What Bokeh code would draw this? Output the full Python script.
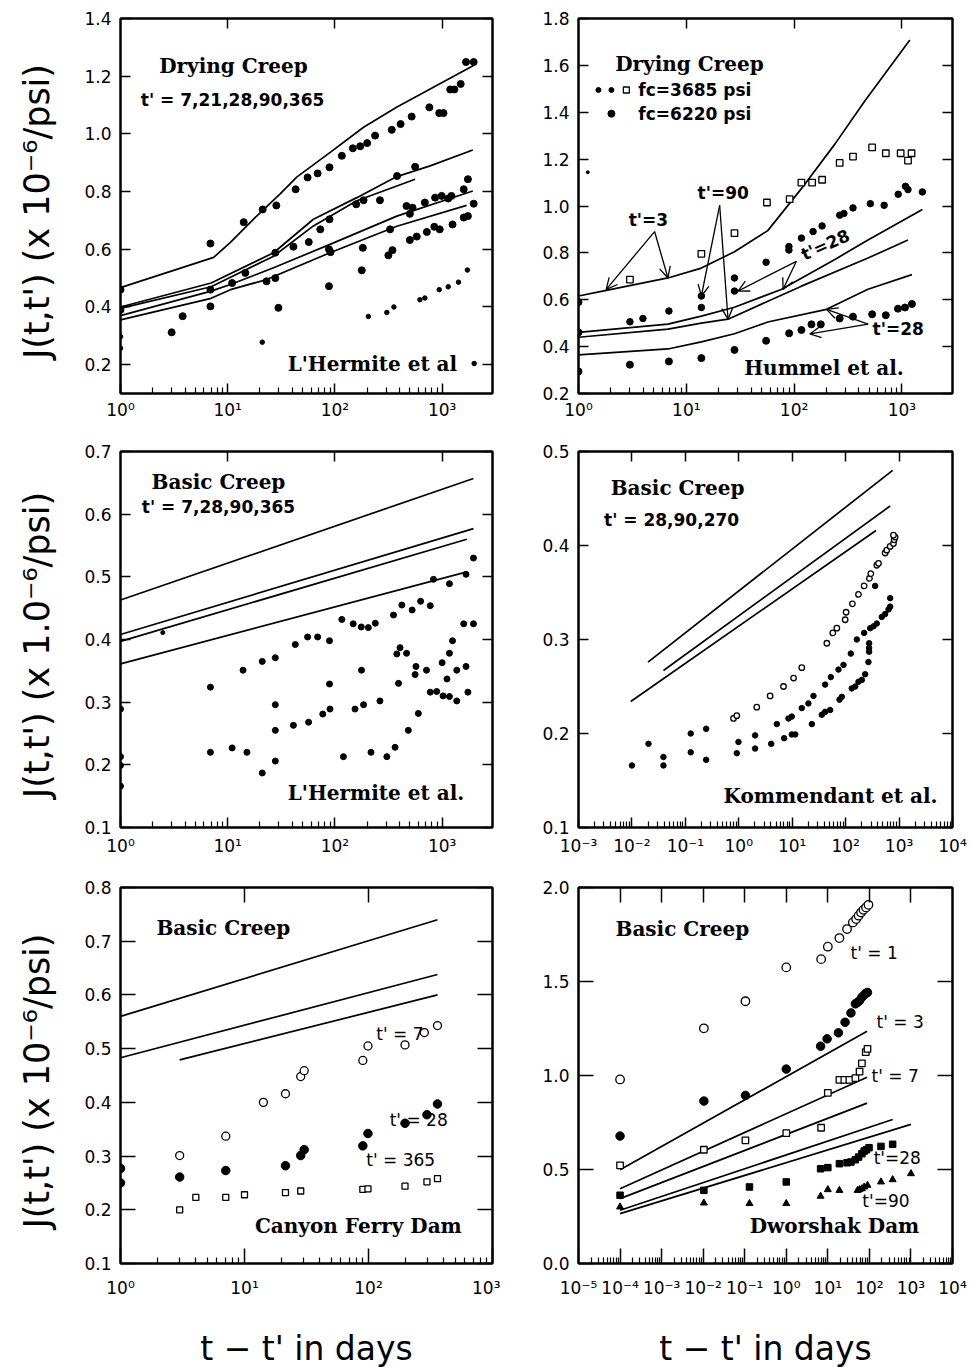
from bokeh.plotting import figure
from bokeh.layouts import column, row
from bokeh.models import (LogAxis, LinearAxis, FixedTicker, CustomJSTickFormatter,
                          NumeralTickFormatter, Label, Arrow, OpenHead)
from bokeh.embed import file_html
from bokeh.resources import INLINE

# ---------------- data: panel 1 (L'Hermite, drying creep) ----------------
tl_A_x = [1, 7.4, 10.6, 18, 31, 44, 91, 185, 379, 774, 1963]
tl_A_y = [0.467, 0.572, 0.624, 0.71, 0.793, 0.85, 0.937, 1.023, 1.093, 1.156, 1.237]
tl_B_x = [1, 7, 26.8, 63, 160, 378, 773, 1932]
tl_B_y = [0.40, 0.483, 0.588, 0.704, 0.779, 0.852, 0.889, 0.944]
tl_C_x = [1, 7, 26.8, 63, 160, 560]
tl_C_y = [0.395, 0.47, 0.576, 0.681, 0.768, 0.843]
tl_D_x = [1, 7, 10.6, 26.8, 90, 378, 1932]
tl_D_y = [0.37, 0.455, 0.478, 0.536, 0.617, 0.715, 0.802]
tl_E_x = [1, 7, 10.6, 23, 90, 378, 1690]
tl_E_y = [0.355, 0.43, 0.46, 0.495, 0.588, 0.68, 0.752]
tl_dot_x = [1, 1, 3.0, 3.8, 6.9, 6.9, 6.9, 11, 14.1, 14.6, 21.2, 23, 27.8, 28.4, 27.8, 29.7,
            41, 43, 55.6, 57, 69, 73, 89, 89, 88, 91, 88, 116, 147, 158, 172, 178, 182, 185,
            200, 237, 263, 315, 327, 339, 344, 380, 410, 465, 500, 500, 520, 530, 560, 580,
            690, 720, 760, 845, 860, 940, 950, 990, 1030, 1140, 1190, 1220, 1250, 1300,
            1490, 1590, 1590, 1670, 1740, 1740, 1970, 1970]
tl_dot_y = [0.46, 0.39, 0.312, 0.368, 0.62, 0.46, 0.402, 0.483, 0.694, 0.518, 0.738, 0.489,
            0.5, 0.752, 0.588, 0.397, 0.609, 0.808, 0.849, 0.625, 0.863, 0.669, 0.884, 0.704,
            0.6, 0.59, 0.472, 0.924, 0.95, 0.756, 0.957, 0.527, 0.605, 0.77, 0.968, 0.994,
            0.77, 0.579, 0.669, 1.014, 0.597, 0.854, 1.034, 0.75, 0.723, 0.632, 1.06, 0.744,
            0.886, 0.644, 0.762, 0.66, 1.092, 0.678, 0.779, 1.072, 0.669, 0.785, 1.072, 0.776,
            1.154, 0.785, 0.686, 1.154, 1.173, 0.808, 0.71, 1.249, 0.843, 0.715, 1.249, 0.758]
tl_small_x = [1, 1, 21, 205, 305, 355, 620, 690, 940, 1140, 1420, 1720, 1990]
tl_small_y = [0.297, 0.257, 0.278, 0.367, 0.381, 0.40, 0.425, 0.431, 0.46, 0.47, 0.486, 0.528, 0.204]

# ---------------- data: panel 2 (Hummel, drying creep) ----------------
tr_1_x = [1, 1.81, 6.76, 13.8, 28, 57, 117, 239, 453, 1186]
tr_1_y = [0.616, 0.64, 0.693, 0.735, 0.805, 0.895, 1.074, 1.264, 1.448, 1.708]
tr_2_x = [1, 6.76, 13.8, 28, 76, 239, 485, 1550]
tr_2_y = [0.461, 0.496, 0.53, 0.568, 0.644, 0.772, 0.855, 0.985]
tr_3_x = [1, 6.76, 13.8, 24.4, 117, 485, 1140]
tr_3_y = [0.44, 0.475, 0.50, 0.517, 0.658, 0.778, 0.855]
tr_4_x = [1, 6.76, 13.8, 28, 57, 200, 485, 1240]
tr_4_y = [0.365, 0.39, 0.42, 0.455, 0.505, 0.559, 0.645, 0.707]
tr_sq_x = [3.0, 13.8, 28, 56, 91, 117, 147, 182, 265, 352, 530, 710, 975, 1230, 1140]
tr_sq_y = [0.686, 0.796, 0.884, 1.015, 1.029, 1.10, 1.10, 1.112, 1.184, 1.211, 1.25, 1.225, 1.225, 1.225, 1.194]
tr_mid_x = [3.0, 3.96, 6.9, 13.8, 13.8, 28, 28, 55, 89.6, 89.6, 117, 150, 182, 265, 290, 352,
            510, 685, 925, 1080, 1140, 1550]
tr_mid_y = [0.506, 0.52, 0.552, 0.567, 0.616, 0.693, 0.637, 0.76, 0.827, 0.812, 0.863, 0.891,
            0.915, 0.961, 0.968, 0.992, 1.01, 1.003, 1.05, 1.084, 1.07, 1.06]
tr_low_x = [1, 1, 1, 3.0, 6.9, 13.8, 28, 55, 90, 117, 145, 177, 265, 352, 530, 710, 920, 1070, 1240]
tr_low_y = [0.59, 0.461, 0.294, 0.323, 0.337, 0.351, 0.386, 0.425, 0.457, 0.471, 0.495, 0.495,
            0.52, 0.528, 0.538, 0.534, 0.562, 0.567, 0.582]

# ---------------- data: panel 3 (L'Hermite, basic creep) ----------------
ml_1_x = [1, 1960]; ml_1_y = [0.463, 0.657]
ml_2_x = [1, 1960]; ml_2_y = [0.408, 0.577]
ml_3_x = [1, 1700]; ml_3_y = [0.397, 0.560]
ml_4_x = [1, 1700]; ml_4_y = [0.361, 0.508]
ml_dot_x = [1, 1, 1, 1, 6.9, 6.9, 11, 13.9, 15.1, 21, 21, 27.8, 27.8, 27.8, 27.8, 41, 42.7,
            55.6, 56.8, 69, 77, 89, 89, 90, 116, 120, 148, 154, 176, 177, 185, 205, 217, 238,
            263, 305, 352, 364, 378, 392, 405, 421, 466, 484, 525, 560, 570, 600, 630, 715,
            775, 775, 830, 890, 1000, 1020, 1110, 1170, 1170, 1170, 1250, 1370, 1370, 1590,
            1670, 1670, 1740, 1960, 1960]
ml_dot_y = [0.289, 0.213, 0.199, 0.166, 0.324, 0.22, 0.227, 0.351, 0.22, 0.365, 0.187, 0.371,
            0.296, 0.255, 0.206, 0.263, 0.392, 0.404, 0.268, 0.404, 0.281, 0.398, 0.329, 0.289,
            0.432, 0.213, 0.425, 0.289, 0.42, 0.351, 0.296, 0.419, 0.22, 0.426, 0.302, 0.213,
            0.439, 0.228, 0.377, 0.33, 0.387, 0.455, 0.378, 0.255, 0.447, 0.344, 0.357, 0.282,
            0.461, 0.351, 0.454, 0.316, 0.496, 0.317, 0.363, 0.31, 0.337, 0.309, 0.378, 0.489,
            0.398, 0.351, 0.302, 0.425, 0.357, 0.504, 0.316, 0.53, 0.425]
ml_small_x = [2.48]; ml_small_y = [0.411]

# ---------------- data: panel 4 (Kommendant, basic creep) ----------------
mr_1_x = [0.02, 760];    mr_1_y = [0.276, 0.48]
mr_2_x = [0.039, 680];   mr_2_y = [0.267, 0.442]
mr_3_x = [0.0095, 370];  mr_3_y = [0.234, 0.416]
mr_open_x = [0.796, 0.918, 2.17, 3.86, 6.87, 10.6, 15.1, 44.5, 57.5, 68.4, 98, 102, 134, 174,
             222, 279, 296, 383, 412, 548, 589, 681, 785, 809, 843, 785]
mr_open_y = [0.216, 0.219, 0.228, 0.24, 0.25, 0.259, 0.27, 0.296, 0.307, 0.312, 0.321, 0.329,
             0.338, 0.348, 0.357, 0.365, 0.37, 0.379, 0.381, 0.392, 0.395, 0.399, 0.402, 0.406,
             0.409, 0.411]
mr_mid_x = [0.0204, 0.126, 0.245, 0.986, 2.02, 5.15, 8.51, 9.82, 15.1, 20.1, 25, 41.3, 52.7,
            73.5, 91.2, 125, 162, 222, 288, 332, 356, 383, 475, 548, 634, 681, 681]
mr_mid_y = [0.189, 0.2, 0.205, 0.191, 0.198, 0.21, 0.216, 0.218, 0.227, 0.232, 0.24, 0.252,
            0.26, 0.268, 0.273, 0.285, 0.3, 0.307, 0.312, 0.314, 0.357, 0.317, 0.324, 0.327,
            0.332, 0.335, 0.344]
mr_low_x = [0.01, 0.0389, 0.0389, 0.126, 0.245, 0.918, 2.02, 4.04, 7.06, 9.82, 11.4, 23.3, 35.8,
            41.3, 51.3, 76.7, 84.7, 130, 151, 174, 201, 232, 267, 275, 275, 275]
mr_low_y = [0.166, 0.175, 0.166, 0.18, 0.172, 0.179, 0.184, 0.189, 0.195, 0.199, 0.199, 0.21,
            0.22, 0.223, 0.225, 0.236, 0.239, 0.248, 0.25, 0.255, 0.257, 0.263, 0.276, 0.287,
            0.291, 0.296]

# ---------------- data: panel 5 (Canyon Ferry Dam) ----------------
bl_1_x = [1, 360]; bl_1_y = [0.56, 0.74]
bl_2_x = [1, 360]; bl_2_y = [0.483, 0.638]
bl_3_x = [3, 360]; bl_3_y = [0.479, 0.60]
bl_t7_x = [3, 7.06, 14.2, 21.4, 28.4, 30.3, 90, 99, 197, 282, 360]
bl_t7_y = [0.301, 0.337, 0.40, 0.416, 0.448, 0.459, 0.478, 0.505, 0.507, 0.53, 0.543]
bl_t28_x = [1, 1, 3, 7.06, 21.4, 28.4, 30.3, 90, 99, 197, 296, 360]
bl_t28_y = [0.277, 0.25, 0.261, 0.273, 0.282, 0.301, 0.312, 0.319, 0.342, 0.361, 0.377, 0.397]
bl_t365_x = [3, 4.05, 7.06, 10, 21.4, 28.4, 90, 99, 197, 296, 360]
bl_t365_y = [0.20, 0.223, 0.223, 0.228, 0.232, 0.235, 0.238, 0.239, 0.244, 0.252, 0.258]

# ---------------- data: panel 6 (Dworshak Dam) ----------------
br_1_x = [1e-4, 88];   br_1_y = [0.499, 1.235]
br_2_x = [1e-4, 88];   br_2_y = [0.398, 0.991]
br_3_x = [1e-4, 88];   br_3_y = [0.345, 0.853]
br_4_x = [1e-4, 363];  br_4_y = [0.283, 0.766]
br_5_x = [1e-4, 1000]; br_5_y = [0.265, 0.74]
br_t1_x = [1e-4, 0.0104, 0.104, 1.0, 6.9, 10, 19, 29, 40, 48, 55, 63, 72, 83, 95]
br_t1_y = [0.979, 1.251, 1.395, 1.575, 1.619, 1.685, 1.731, 1.779, 1.814, 1.832, 1.85, 1.867,
           1.881, 1.894, 1.908]
br_t3_x = [1e-4, 0.0104, 0.104, 1.0, 6.7, 9.6, 18, 26, 36, 46, 52, 58, 66, 75, 82, 90]
br_t3_y = [0.678, 0.864, 0.894, 1.034, 1.156, 1.195, 1.227, 1.283, 1.333, 1.381, 1.389, 1.398,
           1.416, 1.428, 1.437, 1.442]
br_t7_x = [1e-4, 0.0104, 0.104, 1.0, 6.9, 10, 19, 25, 33, 46, 58, 66, 82, 90]
br_t7_y = [0.522, 0.605, 0.655, 0.694, 0.722, 0.908, 0.977, 0.977, 0.977, 0.986, 1.021, 1.065,
           1.124, 1.142]
br_t28_x = [1e-4, 0.0104, 0.13, 1.0, 6.7, 10, 19, 29, 36, 46, 55, 66, 75, 85, 98, 190, 363]
br_t28_y = [0.363, 0.389, 0.407, 0.434, 0.504, 0.51, 0.531, 0.536, 0.54, 0.552, 0.566, 0.584,
            0.598, 0.605, 0.616, 0.623, 0.634]
br_t90_x = [1e-4, 0.0104, 0.13, 1.0, 6.7, 10, 19, 52, 58, 66, 75, 90, 190, 363, 1000]
br_t90_y = [0.301, 0.322, 0.319, 0.319, 0.358, 0.393, 0.389, 0.389, 0.393, 0.398, 0.407, 0.416,
            0.434, 0.446, 0.478]

Y_LABEL = "J(t,t')  (x 10\u207b\u2076/psi)"
Y_LABEL_MID = "J(t,t')  (x 1.0\u207b\u2076/psi)"
X_LABEL = "t \u2212 t' in days"

SUP = """
const m = {'-':'\u207b','0':'\u2070','1':'\u00b9','2':'\u00b2','3':'\u00b3','4':'\u2074',
           '5':'\u2075','6':'\u2076','7':'\u2077','8':'\u2078','9':'\u2079'};
const e = Math.round(Math.log10(tick));
return '10' + String(e).split('').map(c => m[c]).join('');
"""
BLANK = "return '';"

COL = {"L": dict(bl=120, fw=372, br=8), "R": dict(bl=78, fw=374, br=19)}
ROW = {1: dict(bt=18, fh=375, bb=42, tick=10, std=6),
       2: dict(bt=16, fh=376, bb=43, tick=10, std=8),
       3: dict(bt=17, fh=376, bb=100, tick=15, std=14)}
TICK_FONT = "DejaVu Sans"


def minors(lo, hi):
    return [d * 10.0 ** k for k in range(lo, hi) for d in range(2, 10)]


def style_axis(a, tick):
    a.axis_line_width = 2
    a.axis_line_color = "black"
    a.major_tick_line_width = 1.5
    a.major_tick_line_color = "black"
    a.minor_tick_line_color = "black"
    a.major_tick_in = tick
    a.major_tick_out = 0
    a.minor_tick_in = 0
    a.minor_tick_out = 0
    a.major_label_text_font = TICK_FONT
    a.major_label_text_font_size = "17px"
    a.major_label_text_color = "black"


def panel(side, r, xr, yr, xdec, ymaj, yfmt, top_ticks, ylabel=None, xlabel=None):
    c = COL[side]; g = ROW[r]
    p = figure(x_axis_type="log", x_range=xr, y_range=yr,
               frame_width=c["fw"], frame_height=g["fh"],
               min_border_left=c["bl"], min_border_right=c["br"],
               min_border_top=g["bt"], min_border_bottom=g["bb"],
               toolbar_location=None, output_backend="svg")
    p.grid.visible = False
    p.outline_line_color = "black"
    p.outline_line_width = 2
    xa = p.xaxis[0]
    style_axis(xa, g["tick"])
    xa.ticker = FixedTicker(ticks=[10.0 ** k for k in range(xdec[0], xdec[1] + 1)],
                            minor_ticks=minors(xdec[0], xdec[1]))
    xa.formatter = CustomJSTickFormatter(code=SUP)
    xa.minor_tick_in = 6
    xa.minor_tick_line_width = 1.2
    xa.major_label_standoff = g["std"]
    ya = p.yaxis[0]
    style_axis(ya, g["tick"])
    ya.ticker = FixedTicker(ticks=ymaj, minor_ticks=[])
    ya.formatter = NumeralTickFormatter(format=yfmt)
    ya.major_label_standoff = 9
    if ylabel:
        ya.axis_label = ylabel
        ya.axis_label_text_font = "DejaVu Sans"
        ya.axis_label_text_font_size = "35px"
        ya.axis_label_text_font_style = "normal"
        ya.axis_label_text_color = "black"
        ya.axis_label_standoff = 24
    if xlabel:
        xa.axis_label = xlabel
        xa.axis_label_text_font = "DejaVu Sans"
        xa.axis_label_text_font_size = "33px"
        xa.axis_label_text_font_style = "normal"
        xa.axis_label_text_color = "black"
        xa.axis_label_standoff = 28
    top = LogAxis(ticker=FixedTicker(ticks=top_ticks, minor_ticks=[]),
                  formatter=CustomJSTickFormatter(code=BLANK))
    style_axis(top, g["tick"])
    top.major_label_text_font_size = "1px"
    top.major_label_standoff = 0
    p.add_layout(top, "above")
    right = LinearAxis(ticker=FixedTicker(ticks=ymaj, minor_ticks=[]),
                       formatter=CustomJSTickFormatter(code=BLANK))
    style_axis(right, g["tick"])
    right.major_label_text_font_size = "1px"
    right.major_label_standoff = 0
    p.add_layout(right, "right")
    return p


def lines(p, pairs):
    for xs, ys in pairs:
        p.line(xs, ys, line_color="black", line_width=1.7)


def txt(p, x, y, s, font="DejaVu Serif", size="20px", style="bold", align="center", angle=0.0):
    p.add_layout(Label(x=x, y=y, text=s, text_font=font, text_font_size=size,
                       text_font_style=style, text_align=align, text_baseline="middle",
                       angle=angle, text_color="black"))


def arrow(p, x0, y0, x1, y1):
    p.add_layout(Arrow(end=OpenHead(size=11, line_width=1.3, line_color="black"),
                       x_start=x0, y_start=y0, x_end=x1, y_end=y1,
                       line_width=1.3, line_color="black"))


def filled(p, xs, ys, size, marker="circle"):
    p.scatter(xs, ys, marker=marker, size=size, fill_color="black", line_color="black")


def hollow(p, xs, ys, size, marker="circle"):
    p.scatter(xs, ys, marker=marker, size=size, fill_color="white", line_color="black",
              line_width=1.3)


# ---- panel 1
p1 = panel("L", 1, (1, 2950), (0.1, 1.4), (0, 3), [0.2, 0.4, 0.6, 0.8, 1.0, 1.2, 1.4], "0.0",
           [10, 100, 1000], ylabel=Y_LABEL)
lines(p1, [(tl_A_x, tl_A_y), (tl_B_x, tl_B_y), (tl_C_x, tl_C_y), (tl_D_x, tl_D_y), (tl_E_x, tl_E_y)])
filled(p1, tl_dot_x, tl_dot_y, 7)
filled(p1, tl_small_x, tl_small_y, 4.5)
txt(p1, 11.3, 1.237, "Drying Creep")
txt(p1, 11.1, 1.116, "t' = 7,21,28,90,365", font="DejaVu Sans", size="17px")
txt(p1, 1381, 0.204, "L'Hermite et al", align="right")

# ---- panel 2
p2 = panel("R", 1, (1, 2950), (0.2, 1.8), (0, 3), [0.2, 0.4, 0.6, 0.8, 1.0, 1.2, 1.4, 1.6, 1.8],
           "0.0", [10, 100, 1000])
lines(p2, [(tr_1_x, tr_1_y), (tr_2_x, tr_2_y), (tr_3_x, tr_3_y), (tr_4_x, tr_4_y)])
hollow(p2, tr_sq_x, tr_sq_y, 6.5, marker="square")
filled(p2, tr_mid_x, tr_mid_y, 6.5)
filled(p2, tr_low_x, tr_low_y, 7)
filled(p2, [1.22], [1.144], 3)
txt(p2, 10.7, 1.605, "Drying Creep")
filled(p2, [1.53, 2.02], [1.495, 1.495], 5)
hollow(p2, [2.78], [1.495], 6, marker="square")
txt(p2, 3.59, 1.495, "fc=3685 psi", font="DejaVu Sans", size="17px", align="left")
filled(p2, [2.02], [1.394], 7)
txt(p2, 3.59, 1.394, "fc=6220 psi", font="DejaVu Sans", size="17px", align="left")
txt(p2, 4.45, 0.941, "t'=3", font="DejaVu Sans", size="17px")
txt(p2, 22, 1.055, "t'=90", font="DejaVu Sans", size="17px")
txt(p2, 195, 0.834, "t'=28", font="DejaVu Sans", size="17px", angle=0.42)
txt(p2, 925, 0.475, "t'=28", font="DejaVu Sans", size="17px")
txt(p2, 1040, 0.31, "Hummel et al.", align="right")
arrow(p2, 5.08, 0.891, 1.81, 0.644)
arrow(p2, 5.08, 0.891, 6.76, 0.693)
arrow(p2, 20.4, 1.003, 13.8, 0.616)
arrow(p2, 20.4, 1.003, 24.4, 0.517)
arrow(p2, 105, 0.764, 30.2, 0.637)
arrow(p2, 105, 0.764, 79, 0.644)
arrow(p2, 487, 0.496, 200, 0.559)
arrow(p2, 487, 0.496, 140, 0.454)

# ---- panel 3
p3 = panel("L", 2, (1, 2950), (0.1, 0.7), (0, 3), [0.1, 0.2, 0.3, 0.4, 0.5, 0.6, 0.7], "0.0",
           [10, 100, 1000], ylabel=Y_LABEL_MID)
lines(p3, [(ml_1_x, ml_1_y), (ml_2_x, ml_2_y), (ml_3_x, ml_3_y), (ml_4_x, ml_4_y)])
filled(p3, ml_dot_x, ml_dot_y, 6)
filled(p3, ml_small_x, ml_small_y, 4)
txt(p3, 8.2, 0.651, "Basic Creep")
txt(p3, 8.2, 0.612, "t' = 7,28,90,365", font="DejaVu Sans", size="17px")
txt(p3, 1607, 0.155, "L'Hermite et al.", align="right")

# ---- panel 4
p4 = panel("R", 2, (1e-3, 1e4), (0.1, 0.5), (-3, 4), [0.1, 0.2, 0.3, 0.4, 0.5], "0.0",
           [1e-2, 1e-1, 1, 10, 100, 1000])
lines(p4, [(mr_1_x, mr_1_y), (mr_2_x, mr_2_y), (mr_3_x, mr_3_y)])
hollow(p4, mr_open_x, mr_open_y, 5.5)
filled(p4, mr_mid_x, mr_mid_y, 5.5)
filled(p4, mr_low_x, mr_low_y, 5.5)
txt(p4, 0.0715, 0.4616, "Basic Creep")
txt(p4, 0.0552, 0.4275, "t' = 28,90,270", font="DejaVu Sans", size="17px")
txt(p4, 5250, 0.134, "Kommendant et al.", align="right")

# ---- panel 5
p5 = panel("L", 3, (1, 1000), (0.1, 0.8), (0, 3), [0.1, 0.2, 0.3, 0.4, 0.5, 0.6, 0.7, 0.8], "0.0",
           [10, 100], ylabel=Y_LABEL, xlabel=X_LABEL)
lines(p5, [(bl_1_x, bl_1_y), (bl_2_x, bl_2_y), (bl_3_x, bl_3_y)])
hollow(p5, bl_t7_x, bl_t7_y, 8)
filled(p5, bl_t28_x, bl_t28_y, 8.5)
hollow(p5, bl_t365_x, bl_t365_y, 6, marker="square")
txt(p5, 6.74, 0.7255, "Basic Creep")
txt(p5, 179, 0.528, "t' = 7", font="DejaVu Sans", size="17px", style="normal")
txt(p5, 254, 0.368, "t' = 28", font="DejaVu Sans", size="17px", style="normal")
txt(p5, 182, 0.293, "t' = 365", font="DejaVu Sans", size="17px", style="normal")
txt(p5, 565, 0.169, "Canyon Ferry Dam", align="right")

# ---- panel 6
p6 = panel("R", 3, (1e-5, 1e4), (0.0, 2.0), (-5, 4), [0.0, 0.5, 1.0, 1.5, 2.0], "0.0",
           [1e-4, 1e-3, 1e-2, 1e-1, 1, 10, 100, 1000], xlabel=X_LABEL)
lines(p6, [(br_1_x, br_1_y), (br_2_x, br_2_y), (br_3_x, br_3_y), (br_4_x, br_4_y), (br_5_x, br_5_y)])
hollow(p6, br_t1_x, br_t1_y, 8.5)
filled(p6, br_t3_x, br_t3_y, 8.5)
hollow(p6, br_t7_x, br_t7_y, 6.5, marker="square")
filled(p6, br_t28_x, br_t28_y, 6.5, marker="square")
filled(p6, br_t90_x, br_t90_y, 7, marker="triangle")
txt(p6, 0.00316, 1.777, "Basic Creep")
txt(p6, 130, 1.649, "t' = 1", font="DejaVu Sans", size="17px", style="normal")
txt(p6, 550, 1.282, "t' = 3", font="DejaVu Sans", size="17px", style="normal")
txt(p6, 417, 0.995, "t' = 7", font="DejaVu Sans", size="17px", style="normal")
txt(p6, 468, 0.559, "t'=28", font="DejaVu Sans", size="17px", style="normal")
txt(p6, 250, 0.33, "t'=90", font="DejaVu Sans", size="17px", style="normal")
txt(p6, 1585, 0.197, "Dworshak Dam", align="right")

layout = column(row(p1, p2), row(p3, p4), row(p5, p6))
open("out.html", "w").write(file_html(layout, INLINE))
